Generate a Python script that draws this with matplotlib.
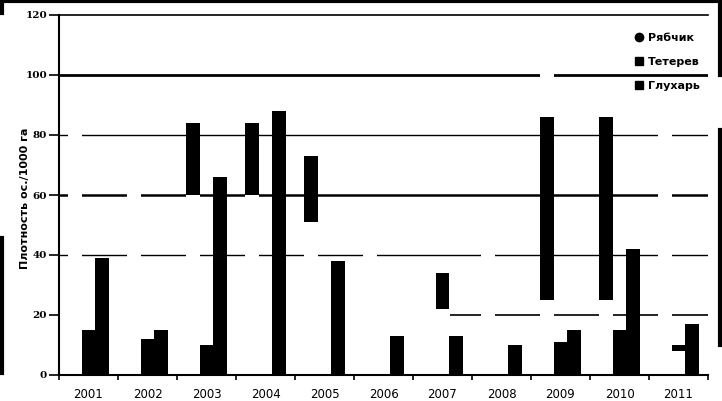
import numpy as np
import matplotlib
matplotlib.use("Agg")
import matplotlib.pyplot as plt
from matplotlib.lines import Line2D

# ---- data ----
years = ["2001", "2002", "2003", "2004", "2005", "2006",
         "2007", "2008", "2009", "2010", "2011"]

# Рябчик: full bar height (drawn light) and the dark part that survives in the scan
ryab_total = [85, 70, 84, 84, 73, 50, 30, 50, 105, 86, 90]
ryab_low = [0, 0, 60, 60, 51, 0, 0, 0, 25, 25, 0]
ryab_high = [0, 0, 84, 84, 73, 0, 0, 0, 86, 86, 0]

# Тетерев (two bars appear detached from the baseline)
teter_low = [0, 0, 0, 0, 0, 0, 22, 0, 0, 0, 8]
teter_high = [15, 12, 10, 0, 0, 0, 34, 0, 11, 15, 10]

# Глухарь
gluh = [39, 15, 66, 88, 38, 13, 13, 10, 15, 42, 17]

labels = ["Рябчик", "Тетерев", "Глухарь"]

# ---- figure ----
fig = plt.figure(figsize=(7.22, 4.01), dpi=100)
ax = fig.add_axes([59 / 722, 1 - 375 / 401, 649 / 722, 360 / 401])

x = np.arange(len(years))
w = 0.23

# gridlines
for yv, lw in [(100, 2.0), (80, 1.0), (60, 1.8), (40, 1.0)]:
    ax.axhline(yv, color="black", lw=lw, zorder=0.5)
ax.hlines(20, 6.12, 10.5, color="black", lw=1.2, zorder=0.5)

ryab_low_a = np.array(ryab_low)
ryab_high_a = np.array(ryab_high)
teter_low_a = np.array(teter_low)
teter_high_a = np.array(teter_high)

ax.bar(x - w, ryab_total, w, color="white", zorder=1)
ax.bar(x - w, ryab_high_a - ryab_low_a, w, bottom=ryab_low_a, color="black", zorder=2)
ax.bar(x, teter_high_a - teter_low_a, w, bottom=teter_low_a, color="black", zorder=2)
ax.bar(x + w, gluh, w, color="black", zorder=2)

ax.set_xlim(-0.5, len(years) - 0.5)
ax.set_ylim(0, 120)

ax.set_xticks(x)
ax.set_xticklabels(years, fontsize=8.5)
ax.set_xticks(np.arange(len(years) + 1) - 0.5, minor=True)
ax.tick_params(axis="x", which="major", length=0, pad=9)
ax.tick_params(axis="x", which="minor", length=3.5, width=1.2, direction="out")

ax.set_yticks(np.arange(0, 121, 20))
ax.tick_params(axis="y", length=7, width=1.2, direction="out", pad=1.5)
for t in ax.get_yticklabels():
    t.set_fontfamily("DejaVu Serif")
    t.set_fontweight("bold")
    t.set_fontsize(7.5)

ax.spines["right"].set_visible(False)
ax.spines["top"].set_linewidth(1.2)
ax.spines["left"].set_linewidth(1.5)
ax.spines["bottom"].set_linewidth(1.5)

ax.set_ylabel("Плотность ос./1000 га", fontsize=8, fontweight="bold", labelpad=2)
ax.yaxis.set_label_coords(-0.045, 0.49)

handles = [
    Line2D([], [], marker="o", color="black", ls="none", markersize=6),
    Line2D([], [], marker="s", color="black", ls="none", markersize=6),
    Line2D([], [], marker="s", color="black", ls="none", markersize=6),
]
fig.legend(handles, labels, loc="upper right", bbox_to_anchor=(710 / 722, 1 - 23 / 401),
           frameon=False, prop={"weight": "bold", "size": 8},
           handlelength=0.8, handletextpad=0.4, labelspacing=1.25)

# scan frame remnants around the picture
frame = [
    ((0, 722), (1, 1), 3),
    ((1.5, 1.5), (0, 13), 3),
    ((1.5, 1.5), (238, 373), 3),
    ((720, 720), (0, 75), 3),
    ((720, 720), (130, 345), 3),
]
for xs, ys, lw in frame:
    fig.add_artist(Line2D([v / 722 for v in xs], [1 - v / 401 for v in ys],
                          transform=fig.transFigure, color="black", lw=lw))

fig.savefig("out.png", dpi=100)
